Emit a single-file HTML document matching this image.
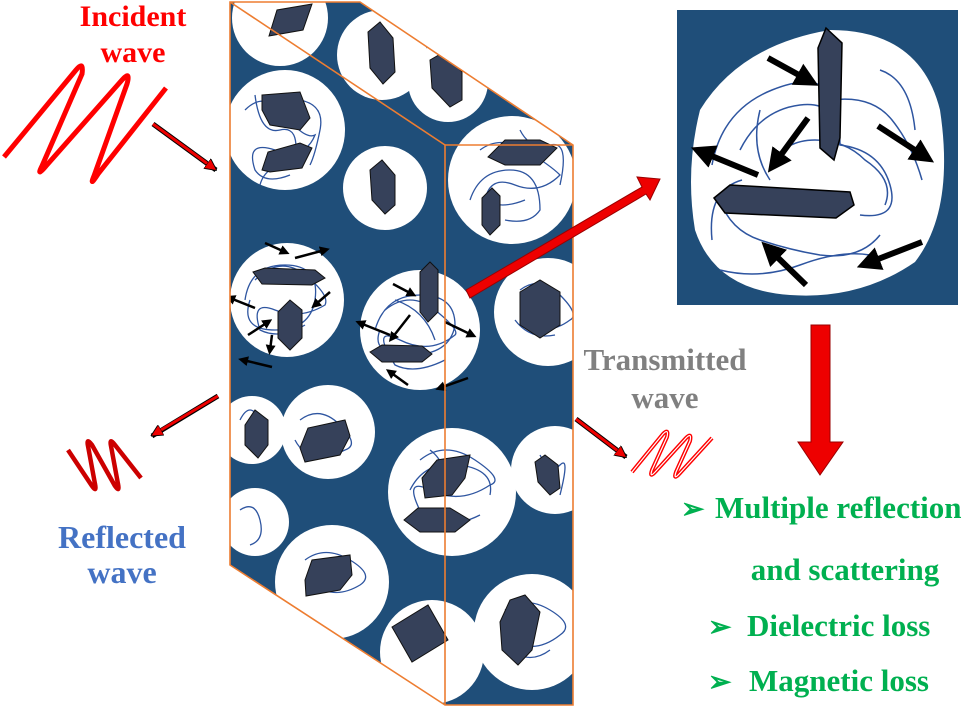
<!DOCTYPE html>
<html><head><meta charset="utf-8"><style>
html,body{margin:0;padding:0;background:#fff;}
svg{display:block;}
text{font-family:"Liberation Serif",serif;font-weight:bold;}
</style></head><body>
<svg width="975" height="707" viewBox="0 0 975 707" xmlns="http://www.w3.org/2000/svg">
<defs>
<clipPath id="blk"><polygon points="230,2 360,2 573,145 573,705 445,705 230,565"/></clipPath>
<marker id="ah" markerWidth="4" markerHeight="4" refX="2" refY="2" orient="auto" markerUnits="strokeWidth"><path d="M0,0 L4,2 L0,4 z" fill="#000"/></marker>
<marker id="rh" markerWidth="4" markerHeight="4" refX="2" refY="2" orient="auto" markerUnits="strokeWidth"><path d="M0,0 L4,2 L0,4 z" fill="#e00" stroke="#000" stroke-width="0.3"/></marker>
</defs>

<g clip-path="url(#blk)">
<rect x="220" y="0" width="360" height="707" fill="#1f4e79"/>
<g fill="#fff">
<circle cx="280" cy="18" r="48"/><circle cx="382" cy="55" r="45"/><circle cx="448" cy="82" r="40"/>
<circle cx="285" cy="130" r="60"/><circle cx="385" cy="188" r="42"/><circle cx="512" cy="180" r="64"/>
<circle cx="287" cy="300" r="57"/><circle cx="420" cy="330" r="60"/><circle cx="548" cy="312" r="54"/>
<circle cx="252" cy="430" r="34"/><circle cx="328" cy="432" r="47"/><circle cx="452" cy="492" r="64"/>
<circle cx="555" cy="470" r="44"/><circle cx="255" cy="522" r="34"/><circle cx="332" cy="582" r="57"/>
<circle cx="432" cy="652" r="52"/><circle cx="532" cy="632" r="58"/>
</g>
<g fill="none" stroke="#2e55a0" stroke-width="1.3">
<path d="M245,110 q20,-20 40,5 t30,20 q-10,25 -40,15 t-20,20 q10,15 35,5"/>
<path d="M255,95 q5,40 25,35 t15,30 q-30,5 -35,25 M300,100 q25,5 20,30 t-10,35"/>
<path d="M480,150 q20,-15 45,0 t35,25 q-20,20 -45,10 t-30,15 q15,10 40,0"/>
<path d="M470,200 q10,-30 40,-30 t30,40 q-10,15 -35,10 M520,130 q10,20 30,15 t10,40"/>
<path d="M255,280 q25,-25 50,-5 t20,30 q-25,15 -50,5 t-15,20 q20,10 45,-5"/>
<path d="M245,300 q5,-35 40,-35 t30,35 q-5,30 -40,30 t-25,-30"/>
<path d="M385,310 q25,-20 50,0 t20,25 q-25,20 -55,5 t-5,25 q20,10 50,-5"/>
<path d="M375,330 q10,-35 45,-35 t35,30 q-5,30 -45,30 t-30,-25 M395,300 q30,10 40,40"/>
<path d="M520,290 q20,-15 40,5 t10,25 q-20,15 -40,5 M515,320 q15,20 40,15"/>
<path d="M300,420 q20,-15 40,5 t5,25 q-20,10 -40,-5 M295,440 q10,20 35,15"/>
<path d="M420,460 q25,-20 55,0 t15,25 q-30,20 -60,5 t-5,30 q25,10 55,-5"/>
<path d="M410,490 q15,-30 50,-25 t30,30 M430,450 q20,15 10,40"/>
<path d="M505,610 q20,-15 45,0 t10,25 q-25,20 -50,5 M510,650 q20,15 40,0"/>
<path d="M305,560 q20,-15 45,0 t10,25 q-25,15 -45,0"/>
<path d="M240,420 q10,-20 20,0 t0,30 M540,455 q10,20 20,10 t0,30"/>
<path d="M240,510 q15,-10 20,10 t-10,25"/>
</g>
<g fill="#36415a" stroke="#111" stroke-width="1">
<polygon points="269,36 277,10 312,4 303,30"/>
<polygon points="368,32 380,22 393,38 395,72 383,84 370,68"/>
<polygon points="430,60 444,52 462,72 462,100 450,107 432,88"/>
<polygon points="262,95 300,92 310,118 300,130 270,125 262,110"/>
<polygon points="262,170 268,152 300,143 312,148 302,168 270,172"/>
<polygon points="370,170 382,160 395,175 395,205 385,214 372,200"/>
<polygon points="488,157 505,140 540,140 557,148 540,165 505,165"/>
<polygon points="482,198 492,188 500,196 500,225 490,235 482,225"/>
<polygon points="253,272 265,268 315,270 325,278 312,285 262,284"/>
<polygon points="278,312 290,300 302,310 302,338 290,350 278,338"/>
<polygon points="420,272 430,262 438,270 438,312 428,322 420,312"/>
<polygon points="370,352 382,345 422,346 432,354 422,362 382,362"/>
<polygon points="520,292 540,280 560,292 560,325 540,338 520,325"/>
<polygon points="245,425 255,410 268,420 268,445 258,458 245,445"/>
<polygon points="300,448 308,428 345,420 350,436 340,455 305,462"/>
<polygon points="422,478 437,460 470,455 465,478 452,495 425,498"/>
<polygon points="404,520 418,508 450,508 470,520 455,532 420,532"/>
<polygon points="535,462 545,455 558,465 560,488 550,495 538,482"/>
<polygon points="305,580 312,560 350,555 352,575 340,590 306,596"/>
<polygon points="392,627 428,605 448,640 412,662"/>
<polygon points="500,622 510,600 525,595 540,612 532,650 518,665 502,650"/>
</g>
<g stroke="#000" stroke-width="2.5" marker-end="url(#ah)">
<line x1="265" y1="243" x2="285" y2="252"/><line x1="295" y1="258" x2="325" y2="250"/>
<line x1="255" y1="308" x2="230" y2="298"/><line x1="330" y1="292" x2="315" y2="305"/>
<line x1="248" y1="335" x2="268" y2="322"/><line x1="272" y1="335" x2="270" y2="350"/>
<line x1="272" y1="367" x2="243" y2="360"/>
<line x1="393" y1="284" x2="412" y2="294"/><line x1="410" y1="315" x2="392" y2="338"/>
<line x1="390" y1="335" x2="360" y2="323"/><line x1="445" y1="322" x2="472" y2="335"/>
<line x1="408" y1="385" x2="390" y2="372"/><line x1="468" y1="378" x2="440" y2="388"/>
</g>
</g>
<g fill="none" stroke="#ed7d31" stroke-width="1.6">
<polygon points="230,2 360,2 573,145 573,705 445,705 230,565"/>
<polyline points="230,2 445,145 445,705"/>
<line x1="445" y1="145" x2="573" y2="145"/>
</g>

<!-- inset -->
<rect x="677" y="10" width="281" height="295" fill="#1f4e79"/>
<path d="M700,110 Q740,45 830,30 Q920,30 940,110 Q955,210 915,262 Q860,300 790,295 Q715,290 695,230 Q685,170 700,110 z" fill="#fff"/>
<g fill="none" stroke="#2e55a0" stroke-width="1.5">
<path d="M712,165 q10,-55 60,-75 t60,10 q40,-5 60,20 t30,60"/>
<path d="M740,150 q20,-40 60,-45 t40,40 q40,5 50,40 t-30,30"/>
<path d="M720,200 q10,30 40,40 t60,15 q40,5 60,-20"/>
<path d="M720,270 q40,10 80,-5 t70,-10"/>
<path d="M770,165 q15,-25 45,-25 t50,20 q30,20 20,45"/>
<path d="M712,240 q-5,-50 30,-60 M760,110 q-10,40 10,70 M880,70 q30,10 35,60"/>
</g>
<g fill="#36415a" stroke="#000" stroke-width="1.5">
<polygon points="826,28 842,43 840,138 834,160 820,148 818,48"/>
<polygon points="714,198 730,185 850,192 854,205 836,218 725,213"/>
</g>
<g stroke="#000" stroke-width="6" marker-end="url(#ah)">
<line x1="768" y1="58" x2="808" y2="80"/><line x1="808" y1="118" x2="775" y2="163"/>
<line x1="758" y1="175" x2="702" y2="152"/><line x1="878" y1="126" x2="924" y2="156"/>
<line x1="806" y1="285" x2="770" y2="250"/><line x1="922" y1="242" x2="868" y2="263"/>
</g>

<polygon points="466,290 642,187 637,177 660,179 650,200 646,194 470,298" fill="#e00" stroke="#900" stroke-width="1"/>
<polygon points="811,325 830,325 830,442 843,442 820,475 798,442 811,442" fill="#e00" stroke="#900" stroke-width="1"/>

<g stroke="#000" stroke-width="5">
<line x1="153" y1="124" x2="216" y2="170"/><line x1="218" y1="396" x2="152" y2="436"/><line x1="576" y1="419" x2="626" y2="457"/>
</g>
<g stroke="#e00" stroke-width="3" marker-end="url(#rh)">
<line x1="153" y1="124" x2="212" y2="167"/><line x1="218" y1="396" x2="156" y2="433"/><line x1="576" y1="419" x2="622" y2="454"/>
</g>

<!-- waves -->
<path d="M4,157 L76,70 Q84,60 82,74 L42,166 Q36,178 46,166 L122,80 Q131,70 127,84 L94,176 Q89,188 98,174 L166,88" fill="none" stroke="#f00" stroke-width="5" stroke-linejoin="round"/>
<path d="M68,450 L92,486 Q97,493 95,484 L88,446 Q86,437 92,445 L115,486 Q120,493 118,484 L111,446 Q109,437 115,445 L141,478" fill="none" stroke="#c00" stroke-width="4.5" stroke-linejoin="round"/>
<g fill="none" stroke-linejoin="round">
<path d="M632,472 L663,434 Q669,428 667,437 L652,470 Q649,479 656,471 L686,438 Q692,432 690,441 L676,472 Q673,481 680,473 L712,438" stroke="#f00" stroke-width="4"/>
<path d="M632,472 L663,434 Q669,428 667,437 L652,470 Q649,479 656,471 L686,438 Q692,432 690,441 L676,472 Q673,481 680,473 L712,438" stroke="#fff" stroke-width="1.2"/>
</g>

<g text-anchor="middle">
<text x="133" y="26" font-size="30" fill="#f00">Incident</text>
<text x="133" y="62" font-size="30" fill="#f00">wave</text>
<text x="122" y="548" font-size="32" fill="#4472c4">Reflected</text>
<text x="122" y="583" font-size="32" fill="#4472c4">wave</text>
<text x="665" y="370" font-size="31" fill="#808080">Transmitted</text>
<text x="665" y="408" font-size="31" fill="#808080">wave</text>
<text x="845" y="580" font-size="31" fill="#00b050">and scattering</text>
</g>
<g font-size="31" fill="#00b050">
<text x="681" y="518" font-size="28">➢</text><text x="715" y="518">Multiple reflection</text>
<text x="708" y="636" font-size="28">➢</text><text x="747" y="636">Dielectric loss</text>
<text x="708" y="691" font-size="28">➢</text><text x="749" y="691">Magnetic loss</text>
</g>
</svg>
</body></html>
